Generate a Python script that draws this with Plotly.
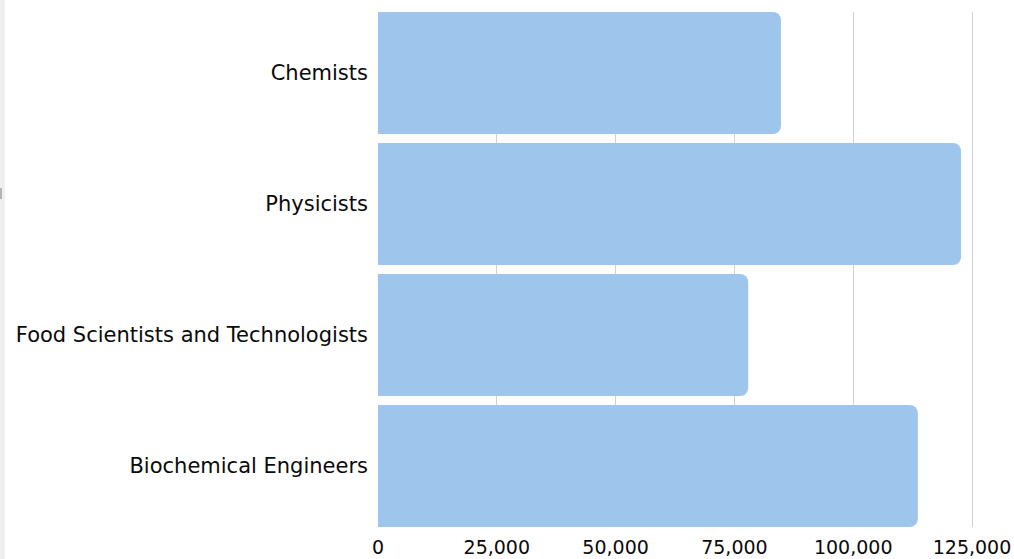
import plotly.graph_objects as go

categories = ["Chemists", "Physicists", "Food Scientists and Technologists", "Biochemical Engineers"]
values = [84800, 122700, 77900, 113600]
tick_vals = [0, 25000, 50000, 75000, 100000, 125000]
tick_text = ["0", "25,000", "50,000", "75,000", "100,000", "125,000"]

W, H = 1014, 559
ML, MR, MT, MB = 378, 0, 12, 32
plot_w = W - ML - MR
plot_h = H - MT - MB

fig = go.Figure(go.Bar(
    y=categories, x=values, orientation="h",
    marker=dict(color="#9ec6ec", line=dict(width=0), cornerradius=8),
))

fig.update_layout(
    width=W, height=H,
    margin=dict(l=ML, r=MR, t=MT, b=MB, autoexpand=False),
    paper_bgcolor="white", plot_bgcolor="white",
    bargap=0.069,
    showlegend=False,
    font=dict(family="DejaVu Sans", size=21, color="#0a0a0a"),
    xaxis=dict(
        range=[0, plot_w / 118.8 * 25000],
        tickvals=tick_vals, ticktext=tick_text,
        showgrid=True, gridcolor="#d0d0d0", gridwidth=1,
        zeroline=False, showline=False, ticks="",
        tickfont=dict(size=19),
        ticklabelstandoff=7,
        ticklabeloverflow="allow",
        automargin=False,
    ),
    yaxis=dict(
        categoryorder="array", categoryarray=categories,
        autorange=False, range=[3.4655, -0.4655],
        showgrid=False, zeroline=False, ticks="",
        ticklabelstandoff=9,
        automargin=False,
    ),
    shapes=[
        dict(type="rect", xref="paper", yref="paper",
             x0=-ML / plot_w, x1=-(ML - 5) / plot_w,
             y0=-MB / plot_h, y1=1 + MT / plot_h,
             fillcolor="#efefef", line=dict(width=0), layer="below"),
        dict(type="rect", xref="paper", yref="paper",
             x0=-ML / plot_w, x1=-(ML - 2) / plot_w,
             y0=1 - (199 - MT) / plot_h, y1=1 - (188 - MT) / plot_h,
             fillcolor="#b5b5b5", line=dict(width=0), layer="above"),
    ],
)

fig.write_html(
    "out.html",
    config={"displayModeBar": False},
    post_script="document.body.style.margin='0px';document.body.style.overflow='hidden';",
)
